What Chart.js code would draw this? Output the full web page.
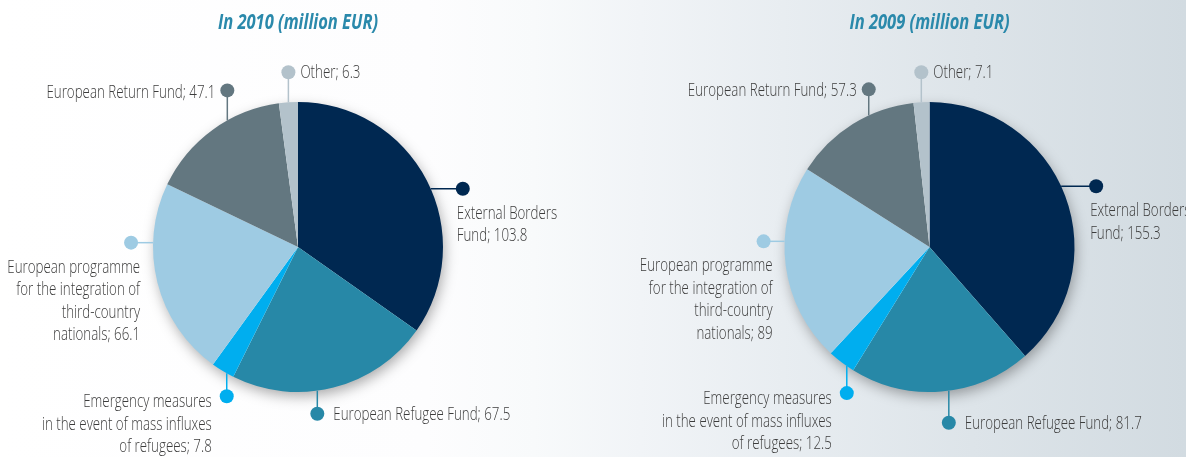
<!DOCTYPE html>
<html>
<head>
<meta charset="utf-8">
<script src="https://cdn.jsdelivr.net/npm/chart.js@4.4.1/dist/chart.umd.min.js"></script>
<style>
  html, body { margin: 0; padding: 0; }
  body {
    width: 1186px; height: 457px; overflow: hidden; position: relative;
    background: linear-gradient(to right, #ffffff 0%, #fdfdfe 36%, #f8fafb 45%, #f1f4f7 54%, #e8edf1 66%, #dde4e9 82%, #d2dbe1 100%);
  }
  .box { position: absolute; top: 0; height: 457px; }
  #box2010 { left: 0; width: 596px; }
  #box2009 { left: 633px; width: 593px; }
</style>
</head>
<body>
<div class="box" id="box2010"><canvas id="chart2010"></canvas></div>
<div class="box" id="box2009"><canvas id="chart2009"></canvas></div>
<script>
// categories (clockwise from 12 o'clock)
const categories = [
  ["External Borders", "Fund"],
  ["European Refugee Fund"],
  ["Emergency measures", "in the event of mass influxes", "of refugees"],
  ["European programme", "for the integration of", "third-country", "nationals"],
  ["European Return Fund"],
  ["Other"]
];
const values2010 = [103.8, 67.5, 7.8, 66.1, 47.1, 6.3];
const values2009 = [155.3, 81.7, 12.5, 89, 57.3, 7.1];
const valueText2010 = ["103.8", "67.5", "7.8", "66.1", "47.1", "6.3"];
const valueText2009 = ["155.3", "81.7", "12.5", "89", "57.3", "7.1"];

const colors = ['#002851', '#2788a7', '#00aeef', '#9ecbe3', '#637780', '#b3c2cb'];

const labelFont = '"Open Sans", "Noto Sans", sans-serif';
const squeeze = 0.74;   // fake a condensed face
const titleSqueeze = 0.75;

// where each leader line leaves its slice, and how the label sits
// frac = position inside the slice, dir = leader direction, len = leader length
const layout2010 = [
  { frac: 0.53, dir: 'right', len: 32, align: 'left',  dx: -6,  dy: 25 },
  { frac: 0.58, dir: 'down',  len: 23, align: 'left',  dx: 16,  dy: 1 },
  { frac: 0.31, dir: 'down',  len: 23, align: 'right', dx: -15, dy: 6 },
  { frac: 0.70, dir: 'left',  len: 22, align: 'right', dx: 9,   dy: 25 },
  { frac: 0.62, dir: 'up',    len: 30, align: 'right', dx: -12, dy: 2 },
  { frac: 0.5,  dir: 'up',    len: 30, align: 'left',  dx: 12,  dy: 1 }
];
const layout2009 = [
  { frac: 0.47, dir: 'right', len: 35, align: 'left',  dx: -6,  dy: 25 },
  { frac: 0.46, dir: 'down',  len: 32, align: 'left',  dx: 16,  dy: 1 },
  { frac: 0.27, dir: 'down',  len: 27, align: 'right', dx: -15, dy: 6 },
  { frac: 0.62, dir: 'left',  len: 21, align: 'right', dx: 9,   dy: 25 },
  { frac: 0.64, dir: 'up',    len: 26, align: 'right', dx: -12, dy: 2 },
  { frac: 0.49, dir: 'up',    len: 30, align: 'left',  dx: 12,  dy: 1 }
];

function squeezedText(ctx, text, x, y, align, sx) {
  ctx.save();
  ctx.translate(x, y);
  ctx.scale(sx, 1);
  ctx.textAlign = align;
  ctx.fillText(text, 0, 0);
  ctx.restore();
}

// soft shadow under the pie
const pieShadow = {
  id: 'pieShadow',
  beforeDatasetsDraw(chart) {
    const arc = chart.getDatasetMeta(0).data[0];
    if (!arc) return;
    const ctx = chart.ctx;
    ctx.save();
    ctx.shadowColor = 'rgba(0,0,0,0.35)';
    ctx.shadowBlur = 14;
    ctx.shadowOffsetX = 2;
    ctx.shadowOffsetY = 5;
    ctx.fillStyle = '#ffffff';
    ctx.beginPath();
    ctx.arc(arc.x, arc.y, arc.outerRadius - 1, 0, Math.PI * 2);
    ctx.fill();
    ctx.restore();
  }
};

// title, leader lines, dots and text
const leaderLabels = {
  id: 'leaderLabels',
  afterDatasetsDraw(chart, args, opts) {
    const ctx = chart.ctx;
    const meta = chart.getDatasetMeta(0);
    const first = meta.data[0];

    ctx.save();
    ctx.fillStyle = '#2a89ab';
    ctx.font = 'italic bold 22px ' + labelFont;
    ctx.textBaseline = 'middle';
    squeezedText(ctx, opts.title, first.x, 23, 'center', titleSqueeze);
    ctx.restore();

    meta.data.forEach((arc, i) => {
      const lay = opts.layout[i];
      const a = arc.startAngle + (arc.endAngle - arc.startAngle) * lay.frac;
      const px = arc.x + Math.cos(a) * arc.outerRadius;
      const py = arc.y + Math.sin(a) * arc.outerRadius;
      let qx = px, qy = py;
      if (lay.dir === 'right') qx += lay.len;
      if (lay.dir === 'left') qx -= lay.len;
      if (lay.dir === 'up') qy -= lay.len;
      if (lay.dir === 'down') qy += lay.len;
      ctx.save();
      ctx.strokeStyle = colors[i];
      ctx.lineWidth = 1.5;
      ctx.beginPath();
      ctx.moveTo(px, py);
      ctx.lineTo(qx, qy);
      ctx.stroke();
      ctx.fillStyle = colors[i];
      ctx.beginPath();
      ctx.arc(qx, qy, 7, 0, Math.PI * 2);
      ctx.fill();

      const lines = categories[i].slice();
      lines[lines.length - 1] += '; ' + opts.texts[i];
      ctx.fillStyle = '#3c3c3c';
      ctx.font = '300 18px ' + labelFont;
      ctx.textBaseline = 'middle';
      lines.forEach((t, k) => {
        squeezedText(ctx, t, qx + lay.dx, qy + lay.dy + k * 22.5, lay.align, squeeze);
      });
      ctx.restore();
    });
  }
};

function makePie(id, title, values, texts, layout) {
  return new Chart(document.getElementById(id), {
    type: 'pie',
    data: {
      labels: categories.map(c => c.join(' ')),
      datasets: [{
        data: values,
        backgroundColor: colors,
        borderWidth: 0
      }]
    },
    plugins: [pieShadow, leaderLabels],
    options: {
      responsive: true,
      maintainAspectRatio: false,
      animation: false,
      layout: { padding: { top: 102, bottom: 65, left: 0, right: 0 } },
      plugins: {
        legend: { display: false },
        tooltip: { enabled: false },
        title: { display: false },
        leaderLabels: { title: title, texts: texts, layout: layout }
      }
    }
  });
}

makePie('chart2010', 'In 2010 (million EUR)', values2010, valueText2010, layout2010);
makePie('chart2009', 'In 2009 (million EUR)', values2009, valueText2009, layout2009);
</script>
</body>
</html>
